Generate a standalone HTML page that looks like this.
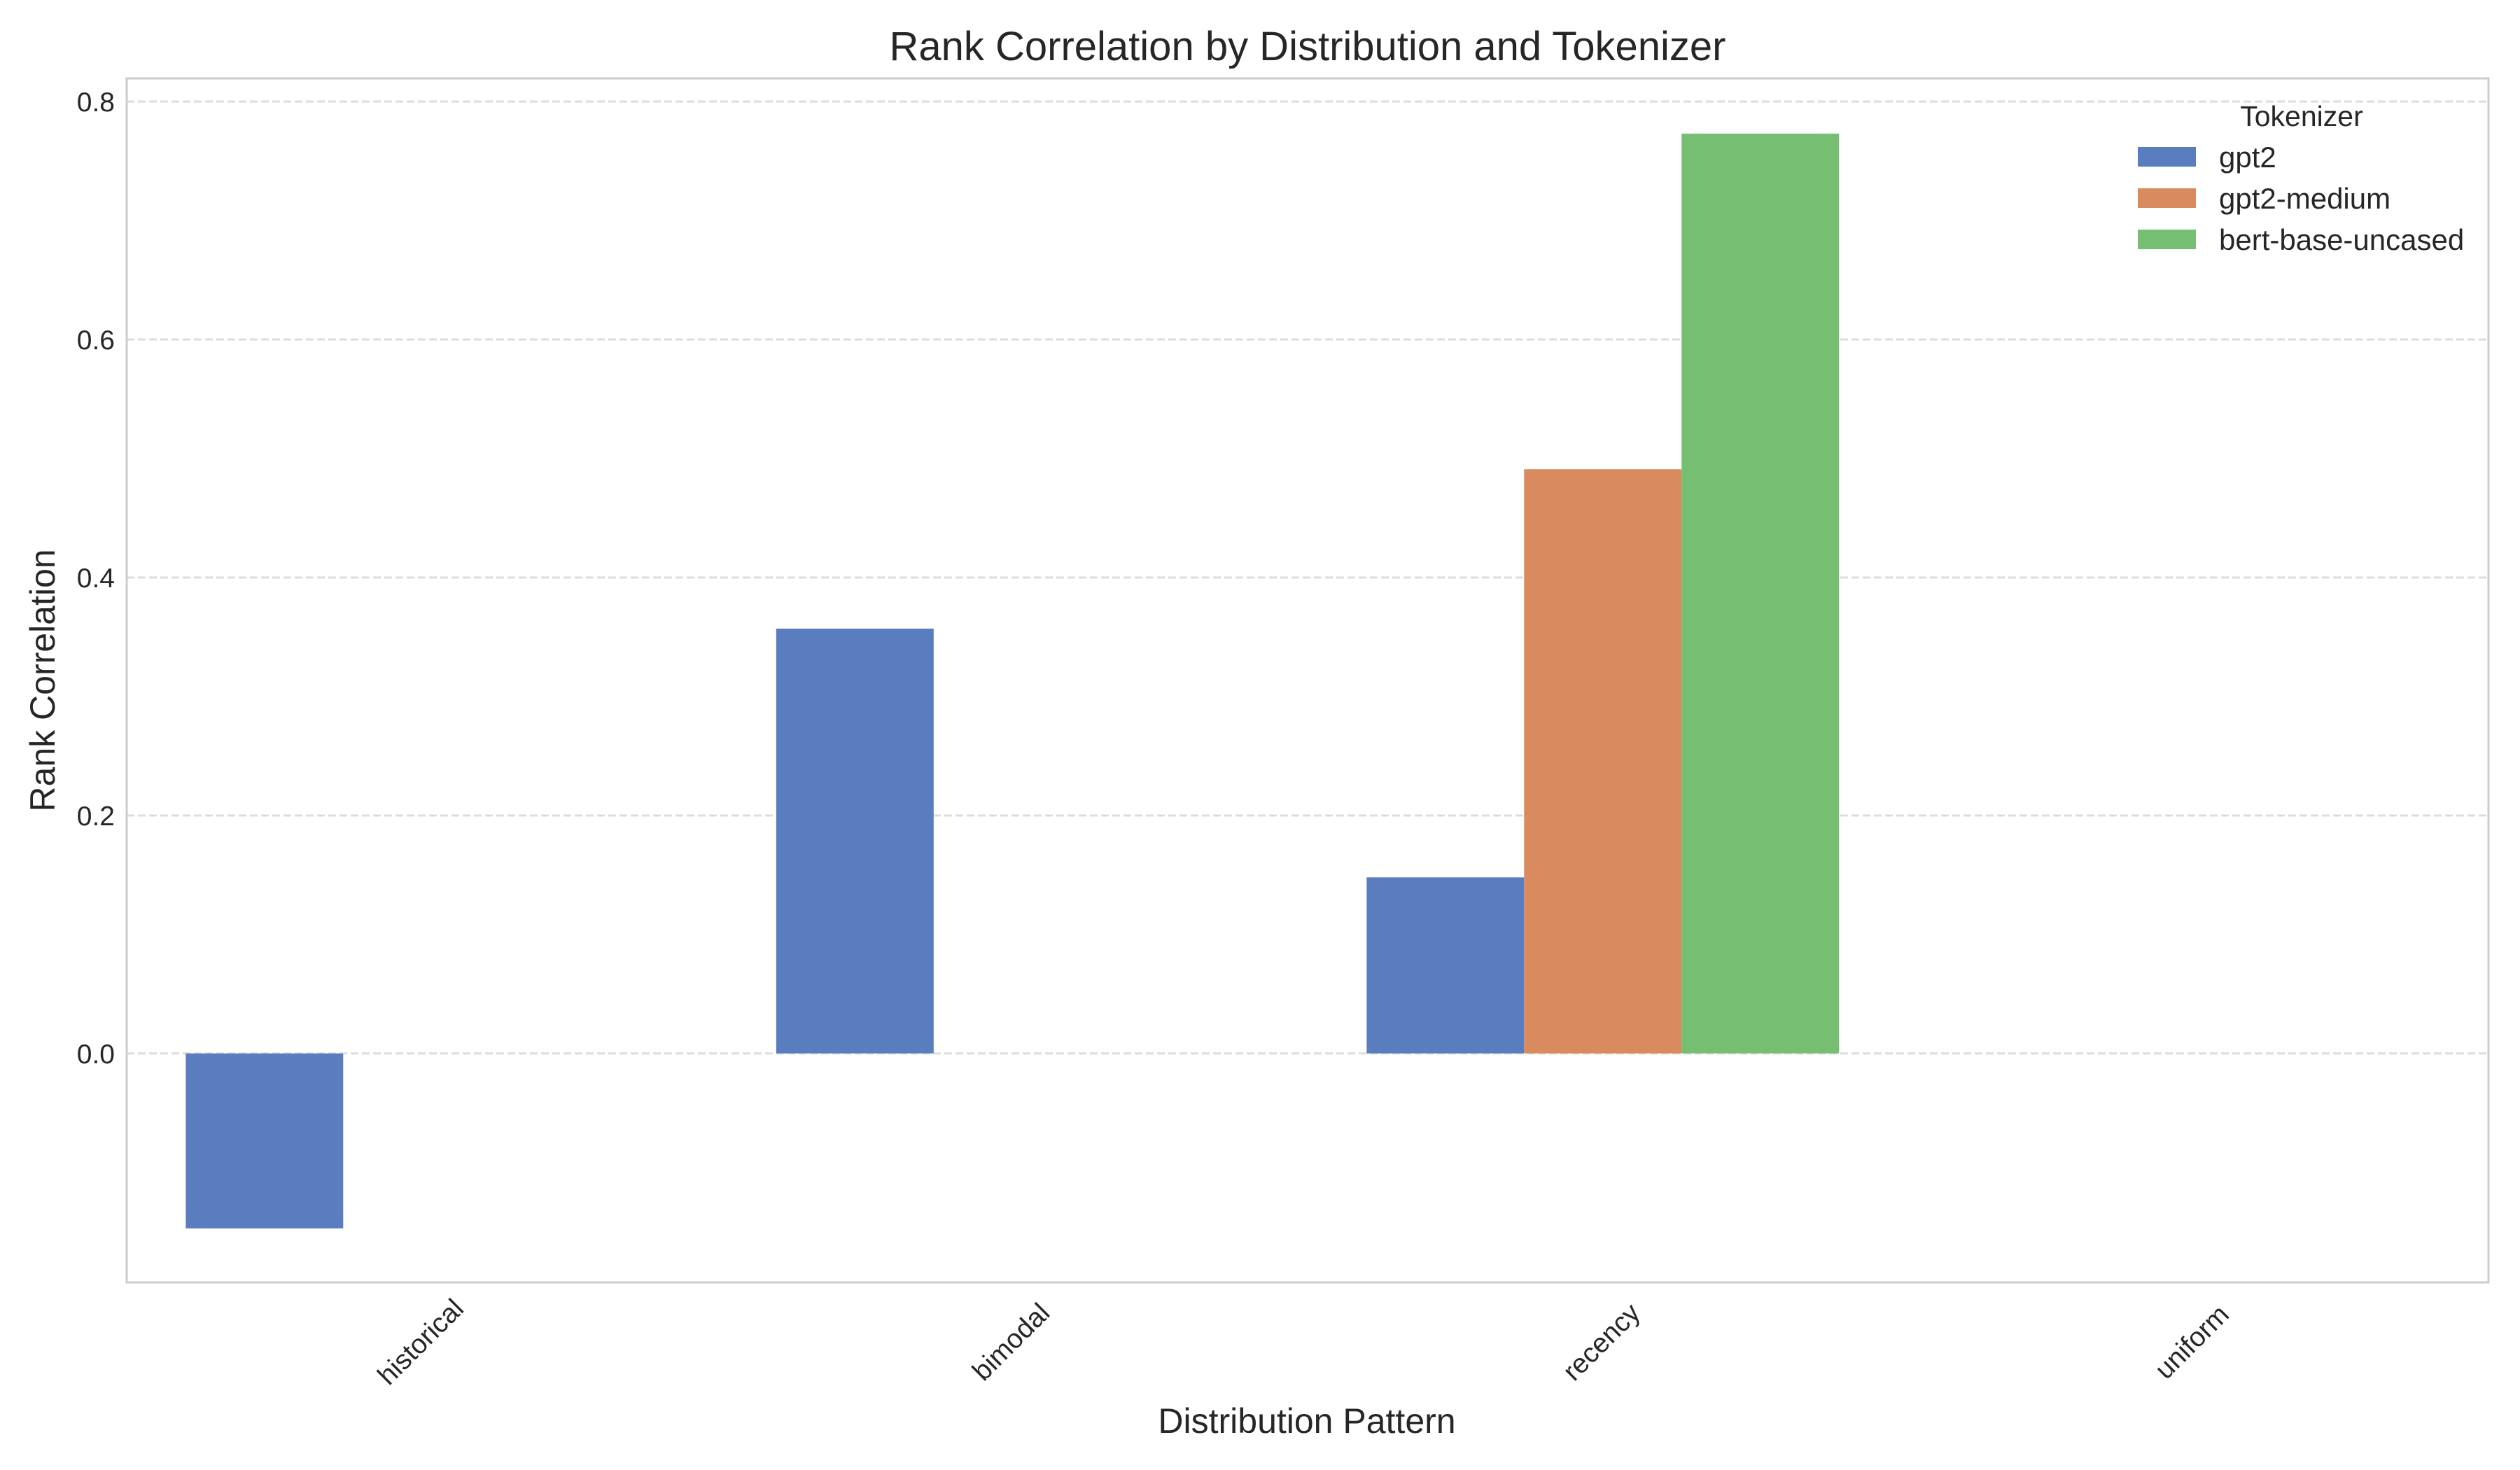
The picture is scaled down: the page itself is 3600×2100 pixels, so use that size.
<!DOCTYPE html>
<html><head><meta charset="utf-8"><style>
html,body{margin:0;padding:0;background:#fff;}
svg{display:block;font-family:"Liberation Sans",Arial,sans-serif;}
</style></head><body>
<svg id="chart" width="3600" height="2100" viewBox="0 0 3600 2100">
<rect width="3600" height="2100" fill="#fff"/>
<g id="grid"></g>
<g id="bars"></g>
<rect x="181" y="112" width="3374" height="1720" fill="none" stroke="#cccccc" stroke-width="3"/>
<g id="yticks"></g>
<g id="xticks"></g>
<text x="1868" y="86" text-anchor="middle" font-size="58" fill="#262626">Rank Correlation by Distribution and Tokenizer</text>
<text x="1867" y="2047" text-anchor="middle" font-size="50" fill="#262626">Distribution Pattern</text>
<text transform="translate(78,972) rotate(-90)" text-anchor="middle" font-size="50" fill="#262626">Rank Correlation</text>
<g id="legend">
<text x="3288" y="180" text-anchor="middle" font-size="41" fill="#262626">Tokenizer</text>
</g>
</svg>
<script>
const categories = ["historical", "bimodal", "recency", "uniform"];
const seriesNames = ["gpt2", "gpt2-medium", "bert-base-uncased"];
const gpt2Values = [-0.147, 0.357, 0.148, null];
const gpt2MediumValues = [null, null, 0.491, null];
const bertValues = [null, null, 0.773, null];
const yTicks = [0.0, 0.2, 0.4, 0.6, 0.8];
const yTickLabels = ["0.0", "0.2", "0.4", "0.6", "0.8"];
const colors = ["#5a7dbf", "#d98b5f", "#76bf72"];

const NS = "http://www.w3.org/2000/svg";
const X0 = 181, X1 = 3555, Y0 = 112, Y1 = 1832;
const yMin = -0.1924, yMax = 0.8194;
function yScale(v){ return Y1 - (v - yMin) / (yMax - yMin) * (Y1 - Y0); }
const slot = (X1 - X0) / categories.length;
function xCenter(i){ return X0 + slot * (i + 0.5); }
const barW = slot * 0.8 / seriesNames.length;
function mk(tag, attrs, parent){ const e = document.createElementNS(NS, tag); for (const k in attrs) e.setAttribute(k, attrs[k]); parent.appendChild(e); return e; }

const grid = document.getElementById('grid');
const yt = document.getElementById('yticks');
yTicks.forEach((t, i) => {
  const y = yScale(t);
  const l = mk('line', {x1: X0, x2: X1, y1: y, y2: y, stroke: '#dcdcdc', 'stroke-width': 3, 'stroke-dasharray': '11 5'}, grid);
  
  
  const tx = mk('text', {x: 164, y: y + 14, 'text-anchor': 'end', 'font-size': 39, fill: '#262626'}, yt);
  tx.textContent = yTickLabels[i];
  
  
});

const xt = document.getElementById('xticks');
categories.forEach((c, i) => {
  const cx = xCenter(i);
  const tx = mk('text', {transform: `translate(${cx},1919) rotate(-45)`, 'text-anchor': 'middle', 'dominant-baseline': 'middle', 'font-size': 39, fill: '#262626'}, xt);
  tx.textContent = c;
  
  
});

const bars = document.getElementById('bars');
const allSeries = [gpt2Values, gpt2MediumValues, bertValues];
allSeries.forEach((vals, s) => {
  vals.forEach((v, i) => {
    if (v === null) return;
    const x = xCenter(i) + (s - 1.5) * barW;
    const y0 = yScale(0), y1 = yScale(v);
    const r = mk('rect', {x: x, y: Math.min(y0, y1), width: barW, height: Math.abs(y1 - y0), fill: colors[s]}, bars);
    
    
  });
});

const lg = document.getElementById('legend');
seriesNames.forEach((n, s) => {
  const cy = 224 + s * 59;
  const p = mk('rect', {x: 3054, y: cy - 14, width: 83, height: 28, fill: colors[s]}, lg);
  
  
  const t = mk('text', {x: 3170, y: cy + 15, 'font-size': 42, fill: '#262626'}, lg);
  t.textContent = n;
  
  
});
</script>
</body></html>
